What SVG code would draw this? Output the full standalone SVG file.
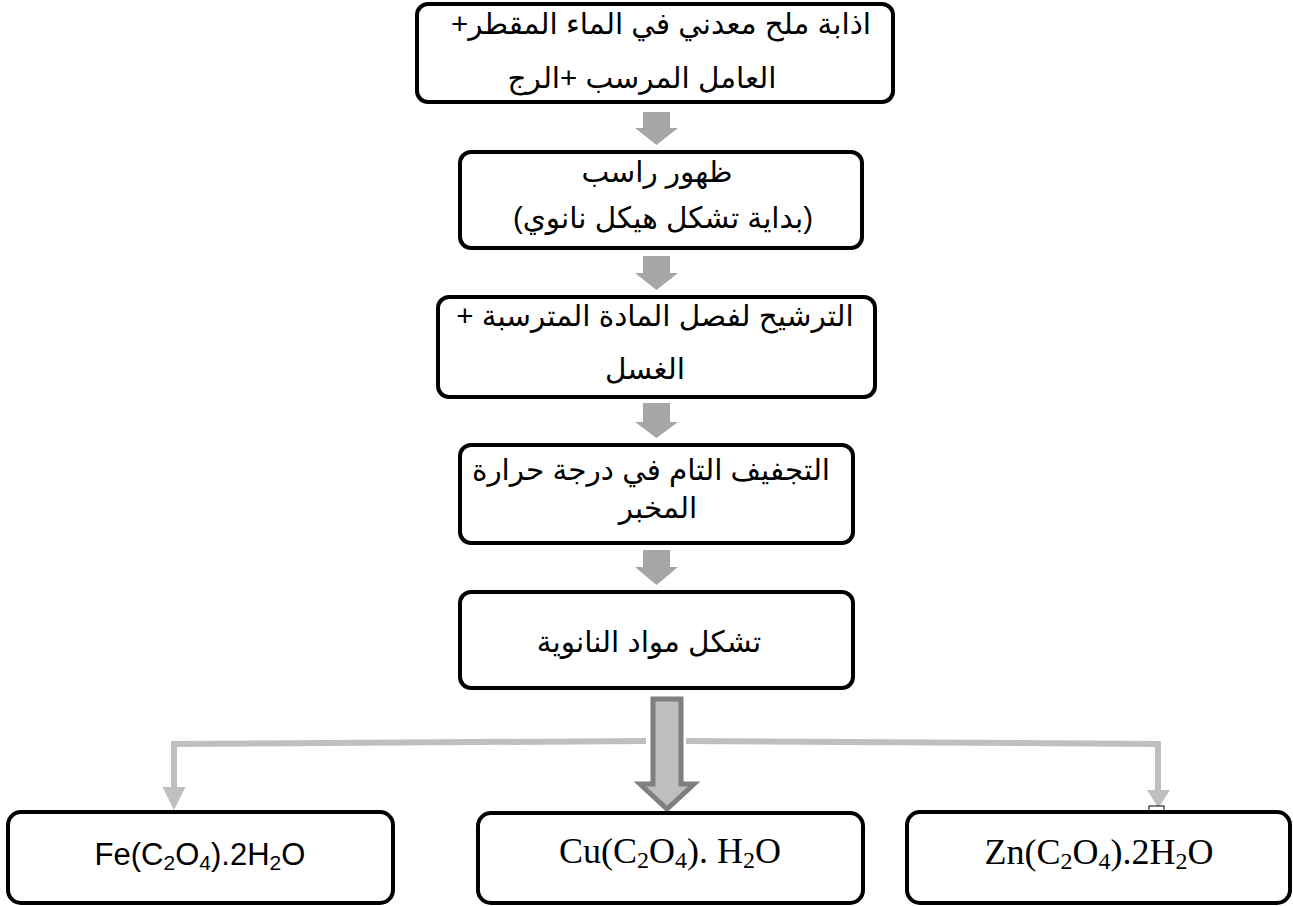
<svg xmlns="http://www.w3.org/2000/svg" width="1293" height="906" viewBox="0 0 1293 906">
<style>
.box{fill:#ffffff;stroke:#000000;stroke-width:4}
.ar{font-family:"Liberation Sans","DejaVu Sans",Arial,sans-serif;font-size:29.5px;fill:#000;text-anchor:middle;direction:rtl}
.fe{font-family:"Liberation Sans","Open Sans",sans-serif;font-size:31px;fill:#000;text-anchor:middle}
.tm{font-family:"Liberation Serif","Times New Roman",serif;font-size:36px;fill:#000;text-anchor:middle}
.sa{fill:#a6a6a6}
.line{fill:none;stroke:#bfbfbf;stroke-width:6}
.head{fill:#bfbfbf}
</style>
<rect width="1293" height="906" fill="#ffffff"/>
<g id="connectors">
  <polygon class="sa" points="643,112 670,112 670,128 678,128 656.5,145 635,128 643,128"/>
  <polygon class="sa" points="643,256 670,256 670,273 678,273 656.5,290 635,273 643,273"/>
  <polygon class="sa" points="643,403 670,403 670,422 678,422 656.5,438 635,422 643,422"/>
  <polygon class="sa" points="643,550 670,550 670,567 678,567 656.5,585 635,567 643,567"/>
  <polyline class="line" points="646,741 174,744 174,790"/>
  <polygon class="head" points="162.5,787 185.5,787 174,810"/>
  <polyline class="line" points="686,741 1158,744 1158,792"/>
  <polygon class="head" points="1147,790 1170,790 1158.5,808"/>
  <polygon points="653,699 681,699 681,784 694,784 667,809 640,784 653,784" fill="#bfbfbf" stroke="#7f7f7f" stroke-width="5"/>
  <rect x="1149" y="806" width="15" height="10" fill="#ffffff" stroke="#000" stroke-width="1"/>
</g>
<g id="n1">
  <rect class="box" x="417" y="4" width="476" height="98" rx="11"/>
  <text class="ar" x="661" y="34">اذابة ملح معدني في الماء المقطر+</text>
  <text class="ar" x="642" y="88">العامل المرسب +الرج</text>
</g>
<g id="n2">
  <rect class="box" x="460" y="152" width="402" height="96" rx="11"/>
  <text class="ar" x="657" y="182" font-size="30.5">ظهور راسب</text>
  <text class="ar" x="663" y="228" font-size="30.5">(بداية تشكل هيكل نانوي)</text>
</g>
<g id="n3">
  <rect class="box" x="438" y="297" width="437" height="100" rx="11"/>
  <text class="ar" x="655" y="326">الترشيح لفصل المادة المترسبة +</text>
  <text class="ar" x="645" y="379">الغسل</text>
</g>
<g id="n4">
  <rect class="box" x="460" y="445" width="393" height="98" rx="11"/>
  <text class="ar" x="651" y="480">التجفيف التام في درجة حرارة</text>
  <text class="ar" x="658" y="518">المخبر</text>
</g>
<g id="n5">
  <rect class="box" x="460" y="592" width="393" height="96" rx="11"/>
  <text class="ar" x="649" y="652">تشكل مواد النانوية</text>
</g>
<g id="n6">
  <rect class="box" x="8" y="812" width="385" height="91" rx="13"/>
  <text class="fe" x="200" y="865">Fe(C<tspan font-size="21" dy="5">2</tspan><tspan dy="-5">O</tspan><tspan font-size="21" dy="5">4</tspan><tspan dy="-5">).2H</tspan><tspan font-size="21" dy="5">2</tspan><tspan dy="-5">O</tspan></text>
</g>
<g id="n7">
  <rect class="box" x="478" y="813" width="385" height="90" rx="13"/>
  <text class="tm" x="670" y="863">Cu(C<tspan font-size="24" dy="5">2</tspan><tspan dy="-5">O</tspan><tspan font-size="24" dy="5">4</tspan><tspan dy="-5">). H</tspan><tspan font-size="24" dy="5">2</tspan><tspan dy="-5">O</tspan></text>
</g>
<g id="n8">
  <rect class="box" x="907" y="812" width="383" height="91" rx="13"/>
  <text class="tm" x="1099" y="864">Zn(C<tspan font-size="24" dy="5">2</tspan><tspan dy="-5">O</tspan><tspan font-size="24" dy="5">4</tspan><tspan dy="-5">).2H</tspan><tspan font-size="24" dy="5">2</tspan><tspan dy="-5">O</tspan></text>
</g>
</svg>
